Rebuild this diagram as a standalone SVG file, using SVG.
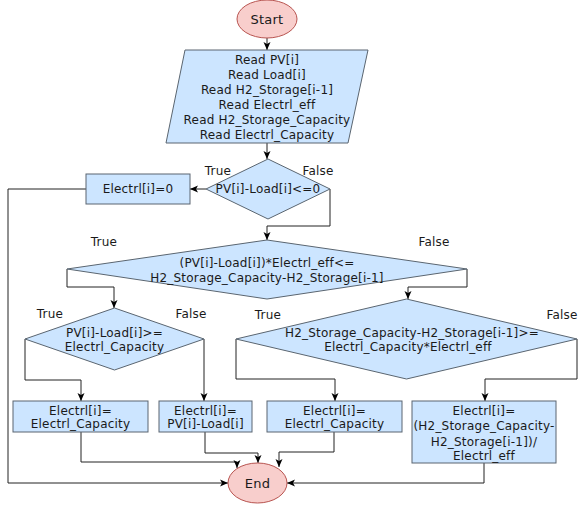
<svg xmlns="http://www.w3.org/2000/svg" width="579" height="507" viewBox="0 0 579 507">
  <defs>
    <marker id="arrow" markerUnits="userSpaceOnUse" markerWidth="10" markerHeight="10" viewBox="0 0 10 10" refX="9" refY="5" orient="auto">
      <path d="M1,1.5 L9,5 L1,8.5 L3,5 Z" fill="#000"/>
    </marker>
    <style>
      .term { fill: #f8cecc; stroke: #b85450; stroke-width: 1; }
      .proc { fill: #cce5ff; stroke: #5a6570; stroke-width: 1; }
      .edge { fill: none; stroke: #222; stroke-width: 1; marker-end: url(#arrow); }
      text { font-family: "DejaVu Sans", Verdana, sans-serif; font-size: 12px; letter-spacing: 0.2px; fill: #1a1a1a; text-anchor: middle; }
    </style>
  </defs>

  <rect width="579" height="507" fill="#fff"/>

  <!-- connectors -->
  <g id="connectors">
    <path class="edge" d="M267,38 L267,50"/>
    <path class="edge" d="M267,143 L267,159"/>
    <path class="edge" d="M206,189 L190,189"/>
    <path class="edge" d="M330,189 L330,226 L267,226 L267,240"/>
    <path class="edge" d="M86,189 L8,189 L8,483 L228,483"/>
    <path class="edge" d="M67,269 L67,287 L114,287 L114,308"/>
    <path class="edge" d="M467,269 L467,287 L408,287 L408,299"/>
    <path class="edge" d="M25,339 L25,380 L81,380 L81,401"/>
    <path class="edge" d="M204,339 L204,401"/>
    <path class="edge" d="M236,339 L236,379 L335,379 L335,401"/>
    <path class="edge" d="M577,339 L577,379 L485,379 L485,401"/>
    <path class="edge" d="M81,432 L81,462 L237,462 L237,468"/>
    <path class="edge" d="M205,432 L205,453 L258,453 L258,463"/>
    <path class="edge" d="M334,432 L334,452 L279,452 L279,467"/>
    <path class="edge" d="M484,463 L484,483 L287,483"/>
  </g>

  <!-- branch labels -->
  <g id="labels">
    <text x="218" y="175">True</text>
    <text x="318" y="175">False</text>
    <text x="104" y="246">True</text>
    <text x="434" y="246">False</text>
    <text x="50" y="318">True</text>
    <text x="191" y="318">False</text>
    <text x="268" y="319">True</text>
    <text x="562" y="319">False</text>
  </g>

  <g id="start">
    <ellipse class="term" cx="267" cy="19" rx="30" ry="19"/>
    <text x="267" y="23.5" style="font-size:13px">Start</text>
  </g>

  <g id="read-inputs">
    <polygon class="proc" points="185,50 368,50 348,143 166,143"/>
    <text x="267" y="64">Read PV[i]</text>
    <text x="267" y="79">Read Load[i]</text>
    <text x="267" y="94">Read H2_Storage[i-1]</text>
    <text x="267" y="109">Read Electrl_eff</text>
    <text x="267" y="124">Read H2_Storage_Capacity</text>
    <text x="267" y="139">Read Electrl_Capacity</text>
  </g>

  <g id="check-surplus">
    <polygon class="proc" points="268,159 330,189 268,219 206,189"/>
    <text x="268" y="193">PV[i]-Load[i]&lt;=0</text>
  </g>

  <g id="electrl-zero">
    <rect class="proc" x="86" y="174" width="104" height="30"/>
    <text x="138" y="193">Electrl[i]=0</text>
  </g>

  <g id="check-storage-room">
    <polygon class="proc" points="267,240 467,269 267,299 67,269"/>
    <text x="267" y="267">(PV[i]-Load[i])*Electrl_eff&lt;=</text>
    <text x="267" y="282">H2_Storage_Capacity-H2_Storage[i-1]</text>
  </g>

  <g id="check-surplus-capacity">
    <polygon class="proc" points="114.5,308 204,339 114.5,370 25,339"/>
    <text x="114.5" y="337">PV[i]-Load[i]&gt;=</text>
    <text x="114.5" y="351">Electrl_Capacity</text>
  </g>

  <g id="check-room-capacity">
    <polygon class="proc" points="406.5,299 577,339 406.5,379 236,339"/>
    <text x="412" y="337">H2_Storage_Capacity-H2_Storage[i-1]&gt;=</text>
    <text x="408" y="351">Electrl_Capacity*Electrl_eff</text>
  </g>

  <g id="electrl-capacity-a">
    <rect class="proc" x="13" y="401" width="135" height="31"/>
    <text x="80.5" y="415">Electrl[i]=</text>
    <text x="80.5" y="428">Electrl_Capacity</text>
  </g>

  <g id="electrl-surplus">
    <rect class="proc" x="159" y="401" width="93" height="31"/>
    <text x="205.5" y="415">Electrl[i]=</text>
    <text x="205.5" y="428">PV[i]-Load[i]</text>
  </g>

  <g id="electrl-capacity-b">
    <rect class="proc" x="267" y="401" width="135" height="31"/>
    <text x="334.5" y="415">Electrl[i]=</text>
    <text x="334.5" y="428">Electrl_Capacity</text>
  </g>

  <g id="electrl-room">
    <rect class="proc" x="412" y="401" width="144" height="62"/>
    <text x="484" y="415">Electrl[i]=</text>
    <text x="484" y="430">(H2_Storage_Capacity-</text>
    <text x="484" y="446">H2_Storage[i-1])/</text>
    <text x="484" y="460">Electrl_eff</text>
  </g>

  <g id="end">
    <ellipse class="term" cx="257.5" cy="483" rx="29.5" ry="20"/>
    <text x="257.5" y="487.5" style="font-size:13px">End</text>
  </g>
</svg>
